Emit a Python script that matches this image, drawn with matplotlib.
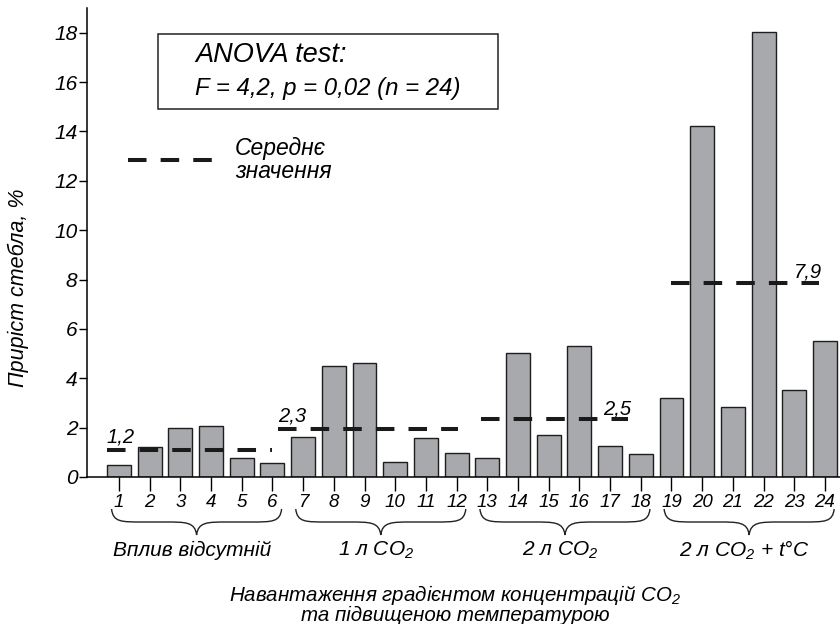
import matplotlib
matplotlib.use("Agg")
import matplotlib.pyplot as plt
from matplotlib.patches import Rectangle, PathPatch
from matplotlib.path import Path
from matplotlib.lines import Line2D

plt.rcParams["font.family"] = ["Liberation Sans", "DejaVu Sans"]
plt.rcParams["font.style"] = "italic"
plt.rcParams["mathtext.fontset"] = "custom"
plt.rcParams["mathtext.rm"] = "Liberation Sans:italic"
plt.rcParams["mathtext.it"] = "Liberation Sans:italic"

# bar values, growth of stem, %
samples = list(range(1, 25))
growth = [0.47, 1.2, 1.97, 2.08, 0.76, 0.55,
          1.62, 4.5, 4.6, 0.6, 1.59, 0.97,
          0.76, 5.04, 1.69, 5.3, 1.26, 0.93,
          3.19, 14.23, 2.82, 18.02, 3.52, 5.5]

# groups of 6 samples
group_names = ["Вплив відсутній", "1 л CO$_2$", "2 л CO$_2$", "2 л CO$_2$ + t°C"]
group_first = [1, 7, 13, 19]
group_last = [6, 12, 18, 24]

# mean lines as drawn in the picture
mean_level = [1.1, 1.95, 2.33, 7.85]
mean_from = [0.61, 6.18, 12.79, 19.0]
mean_to = [5.98, 12.04, 17.6, 23.8]
mean_text = ["1,2", "2,3", "2,5", "7,9"]
mean_side = ["left", "left", "right", "right"]

fig = plt.figure(figsize=(8.4, 6.24), dpi=100)
ax = fig.add_axes([87 / 840, 1 - 477 / 624, 1 - 87 / 840, 469 / 624])

ax.bar(samples, growth, width=0.78, color="#a8a9ad", edgecolor="#1e1e1e",
       linewidth=1.0, zorder=2)

dash = (0, (4.6, 3.5))
for i in range(4):
    x0 = mean_from[i]
    x1 = mean_to[i]
    ax.plot([x0, x1], [mean_level[i]] * 2, color="#1a1a1a", lw=2.9,
            linestyle=dash, dash_capstyle="butt", zorder=3)
    if mean_side[i] == "left":
        ax.text(x0, mean_level[i] + 0.15, mean_text[i], ha="left", va="bottom",
                fontsize=14.5, zorder=4)
    else:
        ax.text(x1 + 0.1, mean_level[i] + 0.05, mean_text[i], ha="right",
                va="bottom", fontsize=14.5, zorder=4)

ax.set_xlim(-0.04, 24.49)
ax.set_ylim(0, 19.0)
ax.set_yticks(range(0, 19, 2))
ax.set_xticks(samples)
ax.tick_params(axis="y", direction="out", length=6, width=1, pad=1,
               labelsize=15)
ax.tick_params(axis="x", direction="out", length=10, width=1, pad=2,
               labelsize=13.5)
for s in ["top", "right"]:
    ax.spines[s].set_visible(False)
for s in ["left", "bottom"]:
    ax.spines[s].set_linewidth(1.1)

# curly braces under each group
trans = ax.get_xaxis_transform()
px = 1 / 469.0
for i in range(4):
    a = group_first[i] - 0.24
    b = group_last[i] + 0.3
    m = (a + b) / 2
    top = -32 * px
    mid = -45 * px
    tip = -58 * px
    r = 1.0
    verts = [(a, top), (a + 0.05, mid), (a + 0.3, mid), (a + r, mid),
             (m - r, mid),
             (m - 0.35, mid), (m - 0.05, mid), (m, tip),
             (m + 0.05, mid), (m + 0.35, mid), (m + r, mid),
             (b - r, mid),
             (b - 0.3, mid), (b - 0.05, mid), (b, top)]
    codes = [Path.MOVETO, Path.CURVE4, Path.CURVE4, Path.CURVE4,
             Path.LINETO,
             Path.CURVE4, Path.CURVE4, Path.CURVE4,
             Path.CURVE4, Path.CURVE4, Path.CURVE4,
             Path.LINETO,
             Path.CURVE4, Path.CURVE4, Path.CURVE4]
    ax.add_patch(PathPatch(Path(verts, codes), fill=False, lw=1.0,
                           edgecolor="#222222", transform=trans, clip_on=False))
    ax.text(m - 0.15, -73 * px, group_names[i], transform=trans, ha="center",
            va="center", fontsize=15)

fig.text(455 / 840, 1 - 595 / 624,
         "Навантаження градієнтом концентрацій CO$_2$",
         ha="center", va="center", fontsize=14.8)
fig.text(455 / 840, 1 - 615 / 624, "та підвищеною температурою",
         ha="center", va="center", fontsize=14.8)

fig.text(18 / 840, 1 - 288 / 624, "Приріст стебла, %", rotation=90,
         ha="center", va="center", fontsize=15.5)

# ANOVA box
fig.patches.append(Rectangle((158 / 840, 1 - 109 / 624), 340 / 840, 75 / 624,
                             transform=fig.transFigure, fill=False,
                             edgecolor="#222222", lw=1.1))
fig.text(195 / 840, 1 - 55 / 624, "ANOVA test:", ha="left", va="center",
         fontsize=19.5)
fig.text(195 / 840, 1 - 88 / 624, "F = 4,2, p = 0,02 (n = 24)", ha="left",
         va="center", fontsize=17.3)

# legend for mean line
fig.lines.append(Line2D([128 / 840, 212 / 840], [1 - 160 / 624] * 2,
                        transform=fig.transFigure, color="#1a1a1a", lw=2.9,
                        linestyle=dash, dash_capstyle="butt"))
fig.text(235 / 840, 1 - 149 / 624, "Середнє", ha="left", va="center",
         fontsize=16.5)
fig.text(235 / 840, 1 - 172 / 624, "значення", ha="left", va="center",
         fontsize=16.5)

fig.savefig("out.png", dpi=100)
